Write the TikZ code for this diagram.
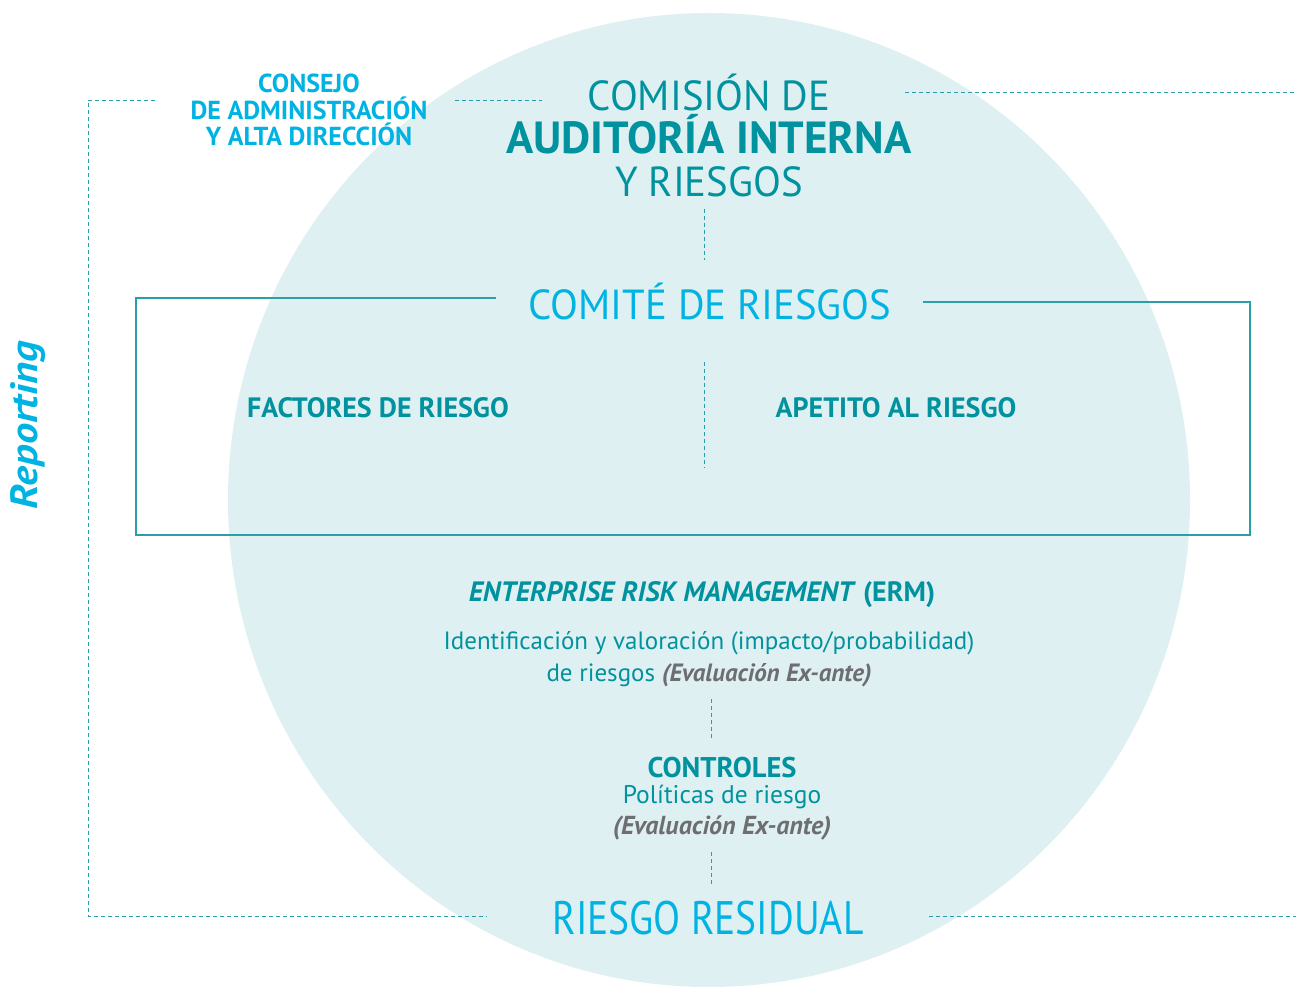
\documentclass[tikz,border=0pt]{standalone}
\usepackage{fontspec}
\setmainfont{PT Sans}
\newfontfamily\estrecha{PT Sans}[FakeStretch=0.97]
\newfontfamily\muyestrecha{PT Sans}[FakeStretch=0.84]
\newfontfamily\ancha{PT Sans}[FakeStretch=1.12]
\usetikzlibrary{positioning}
\definecolor{tealosc}{HTML}{00929E}
\definecolor{cian}{HTML}{00B3E3}
\definecolor{fondo}{HTML}{DFF0F2}
\definecolor{gris}{HTML}{6D6E71}
\definecolor{linea}{HTML}{2A9FAA}
\tikzset{
  guion/.style={draw=linea, dash pattern=on 4pt off 3pt, line width=0.9pt},
  texto/.style={inner sep=0pt, align=center, text=tealosc},
  negrita/.style={texto, font=\fontsize{28}{30}\selectfont\bfseries},
  grande/.style={inner sep=0pt, align=center, font=\estrecha\fontsize{42}{43}\selectfont},
}
\begin{document}
\begin{tikzpicture}[x=1pt,y=-1pt]
\useasboundingbox (0,0) rectangle (1296,987);
\fill[fondo] (709,500) ellipse [x radius=481pt, y radius=487pt];

% nodos de texto
\node[texto, text=cian, font=\fontsize{26}{26.5}\selectfont\bfseries] (consejo) at (309,110) {CONSEJO\\DE ADMINISTRACIÓN\\Y ALTA DIRECCIÓN};
\node[grande, text=tealosc] (comision) at (709,135) {COMISIÓN DE\\{\normalfont\fontsize{45}{43}\selectfont\bfseries AUDITORÍA INTERNA}\\Y RIESGOS};
\node[grande, text=cian] (comite) at (710,301) {COMITÉ DE RIESGOS};
\node[negrita] (factores) at (378,408) {FACTORES DE RIESGO};
\node[negrita] (apetito) at (896,408) {APETITO AL RIESGO};
\node[negrita] (erm) at (702,595) {\textit{ENTERPRISE RISK MANAGEMENT} (ERM)};
\node[texto, font=\fontsize{25}{32}\selectfont] (identif) at (709,659) {Identificación y valoración (impacto/probabilidad)\\de riesgos {\color{gris}\bfseries\itshape(Evaluación Ex-ante)}};
\node[texto, font=\fontsize{28.5}{30}\selectfont\bfseries] (controles) at (722,768) {CONTROLES};
\node[texto, font=\fontsize{25.5}{26}\selectfont] (politicas) at (722,797) {Políticas de riesgo};
\node[texto, text=gris, font=\fontsize{26}{26}\selectfont\bfseries\itshape] (exante) at (722,828) {(Evaluación Ex-ante)};
\node[inner sep=0pt, text=cian, font=\muyestrecha\fontsize{47}{48}\selectfont] (residual) at (708,918) {RIESGO RESIDUAL};
\node[inner sep=0pt, text=cian, rotate=90, font=\ancha\fontsize{38}{40}\selectfont\bfseries\itshape] (reporting) at (28,425) {Reporting};

% marco del comite
\draw[linea, line width=1.1pt] ([xshift=-32pt]comite.west |- 0,298) -- (136,298) -- (136,535) -- (1250,535) -- (1250,302) -- ([xshift=31pt]comite.east |- 0,302);

% conectores discontinuos
\draw[guion] ([xshift=-5pt,yshift=-12pt]comision.south) -- ([xshift=-6pt,yshift=22pt]comite.north);
\draw[guion] (704,362) -- (704,468);
\draw[guion] ([xshift=2pt,yshift=-12pt]identif.south) -- ([xshift=-11pt,yshift=18pt]controles.north);
\draw[guion] ([xshift=-11pt,yshift=-12pt]exante.south) -- ([xshift=3pt,yshift=14pt]residual.north);
\draw[guion] (155,100) -- (88,100) -- (88,916) -- ([xshift=-66pt]residual.west |- 0,916);
\draw[guion] ([xshift=27pt]consejo.east |- 0,100) -- ([xshift=36pt]comision.west |- 0,100);
\draw[guion] ([xshift=-7pt]comision.east |- 0,92) -- (1296,92);
\draw[guion] ([xshift=65pt]residual.east |- 0,916) -- (1296,916);
\end{tikzpicture}
\end{document}
